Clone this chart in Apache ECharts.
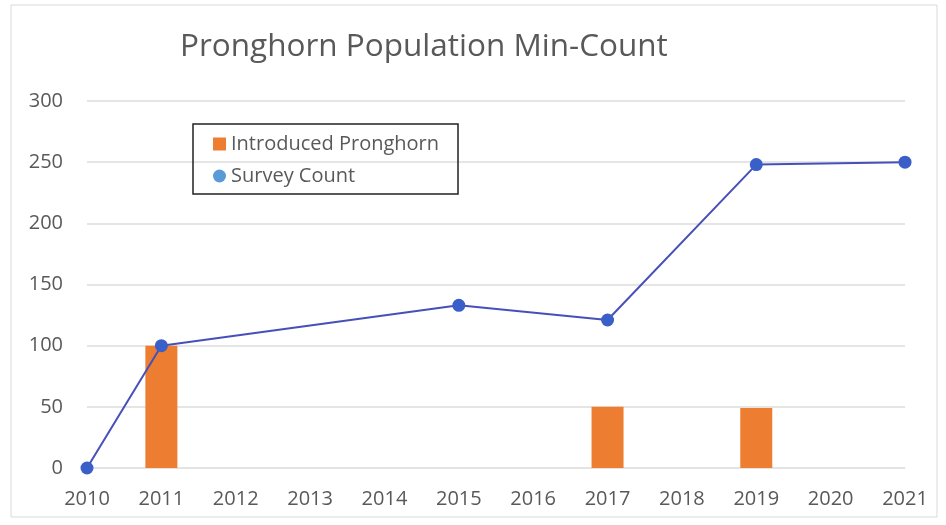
<!DOCTYPE html>
<html>
<head>
<meta charset="utf-8">
<script src="https://cdn.jsdelivr.net/npm/echarts@6/dist/echarts.min.js"></script>
<style>
  html, body { margin: 0; padding: 0; background: #ffffff; }
  #chart { width: 946px; height: 525px; }
</style>
</head>
<body>
<div id="chart"></div>
<script>
// Survey years along the horizontal axis
const years = ['2010', '2011', '2012', '2013', '2014', '2015', '2016', '2017', '2018', '2019', '2020', '2021'];
// Animals released in a given year (null = none)
const introduced = [null, 100, null, null, null, null, null, 50, null, 49, null, null];
// Minimum counts from surveys (null = no survey that year)
const surveyCount = [0, 100, null, null, null, 133, null, 121, null, 248, null, 250];
// Vertical axis ticks
const yTicks = { min: 0, max: 300, step: 50 };

const textColor = '#595959';
const fontFamily = '"Open Sans", "DejaVu Sans", sans-serif';

const chart = echarts.init(document.getElementById('chart'), null, { renderer: 'canvas' });

chart.setOption({
  backgroundColor: '#ffffff',
  animation: false,
  textStyle: { fontFamily: fontFamily },
  title: {
    text: 'Pronghorn Population Min-Count',
    left: 175,
    top: 26,
    textStyle: { fontSize: 31.5, fontWeight: 'normal', color: textColor, fontFamily: fontFamily }
  },
  graphic: [
    {
      type: 'rect',
      silent: true,
      shape: { x: 11, y: 5, width: 926, height: 512 },
      style: { fill: 'none', stroke: '#d9d9d9', lineWidth: 1 }
    },
    {
      type: 'rect',
      silent: true,
      z: 100,
      shape: { x: 193, y: 124, width: 265, height: 70 },
      style: { fill: 'none', stroke: '#222222', lineWidth: 1.5 }
    }
  ],
  legend: {
    orient: 'vertical',
    left: 213,
    top: 133,
    padding: 0,
    itemWidth: 13,
    itemHeight: 13,
    itemGap: 10,
    textStyle: { fontSize: 20, color: textColor, fontFamily: fontFamily, lineHeight: 22 },
    data: [
      { name: 'Introduced Pronghorn', icon: 'rect', itemStyle: { color: '#ED7D31' } },
      { name: 'Survey Count', icon: 'circle', itemStyle: { color: '#5B9BD5' } }
    ]
  },
  grid: { left: 87, right: 41, top: 101, bottom: 57, containLabel: false },
  xAxis: {
    type: 'category',
    data: years,
    boundaryGap: false,
    axisTick: { show: false },
    axisLine: { show: true, lineStyle: { color: '#e3e3e3', width: 1 } },
    axisLabel: { fontSize: 20, color: textColor, margin: 21, fontFamily: fontFamily },
    splitLine: { show: false }
  },
  yAxis: {
    type: 'value',
    min: yTicks.min,
    max: yTicks.max,
    interval: yTicks.step,
    axisLine: { show: false },
    axisTick: { show: false },
    axisLabel: { fontSize: 20, color: textColor, margin: 24, fontFamily: fontFamily },
    splitLine: { show: true, lineStyle: { color: '#dcdcdc', width: 1.5 } }
  },
  series: [
    {
      name: 'Introduced Pronghorn',
      type: 'bar',
      data: introduced,
      barWidth: 32,
      itemStyle: { color: '#ED7D31' },
      z: 2
    },
    {
      name: 'Survey Count',
      type: 'line',
      data: surveyCount,
      connectNulls: true,
      symbol: 'circle',
      symbolSize: 13,
      lineStyle: { color: '#4650b8', width: 2 },
      itemStyle: { color: '#3a5fc8' },
      z: 3
    }
  ]
});
</script>
</body>
</html>
